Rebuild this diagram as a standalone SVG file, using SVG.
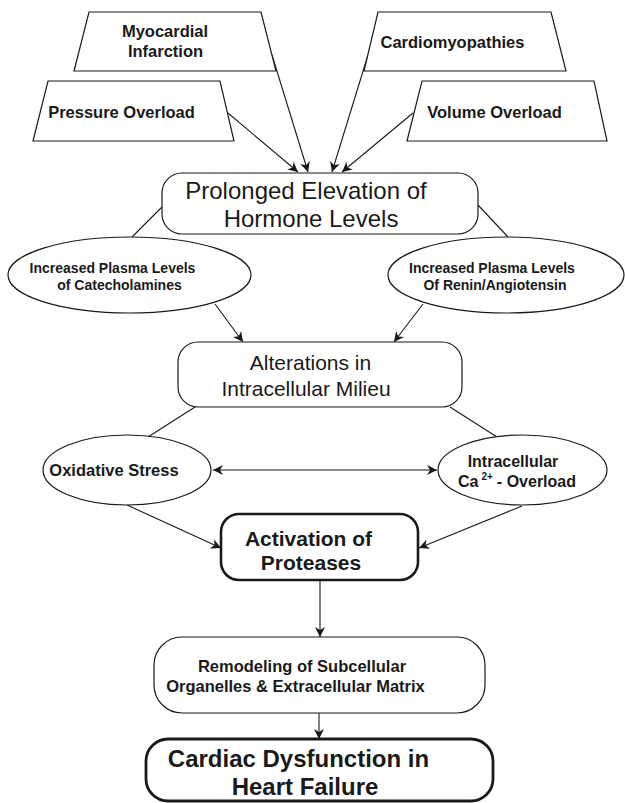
<svg xmlns="http://www.w3.org/2000/svg" width="625" height="803" viewBox="0 0 625 803">
<defs>
<style>
.shape{fill:#fff;stroke:#1a1a1a;stroke-width:1.2}
.thick{fill:#fff;stroke:#1a1a1a;stroke-width:2.6}
.con{fill:none;stroke:#1a1a1a;stroke-width:1.1}
.arr{marker-end:url(#ah)}
text{font-family:"Liberation Sans",Arial,Helvetica,sans-serif;fill:#1a1a1a}
.b{font-weight:bold}
.m{text-anchor:middle}
</style>
<marker id="ah" viewBox="0 0 10 10" refX="10" refY="5" markerWidth="10" markerHeight="10" markerUnits="userSpaceOnUse" orient="auto-start-reverse">
<path d="M0,0 L10,5 L0,10 L3,5 z" fill="#1a1a1a"/>
</marker>
</defs>
<rect width="625" height="803" fill="#fff"/>

<g id="connectors">
<line class="con arr" x1="228" y1="113" x2="298" y2="172"/>
<line class="con arr" x1="272" y1="55" x2="308" y2="172"/>
<line class="con arr" x1="368" y1="55" x2="332" y2="172"/>
<line class="con arr" x1="413" y1="113" x2="342" y2="172"/>
<line class="con" x1="162" y1="207" x2="132" y2="237"/>
<line class="con" x1="478" y1="205" x2="508" y2="237"/>
<line class="con arr" x1="215" y1="304" x2="243" y2="342"/>
<line class="con arr" x1="423" y1="304" x2="394" y2="342"/>
<line class="con" x1="195" y1="407" x2="148" y2="437"/>
<line class="con" x1="450" y1="407" x2="497" y2="437"/>
<line class="con" x1="213" y1="470" x2="437" y2="470" marker-start="url(#ah)" marker-end="url(#ah)"/>
<line class="con arr" x1="127" y1="505" x2="221" y2="548"/>
<line class="con arr" x1="522" y1="506" x2="419" y2="548"/>
<line class="con arr" x1="320" y1="580" x2="320" y2="637"/>
<line class="con arr" x1="319" y1="709" x2="319" y2="739"/>
</g>

<g id="myocardial">
<polygon class="shape" points="89,12 261,12 276,71 74,71"/>
<text class="b m" x="165" y="37" font-size="16.5">Myocardial</text>
<text class="b m" x="165.5" y="57" font-size="16.5">Infarction</text>
</g>
<g id="pressure">
<polygon class="shape" points="48,81 220,81 234,141 33,141"/>
<text class="b m" x="121.5" y="118" font-size="16.5">Pressure Overload</text>
</g>
<g id="cardiomyopathies">
<polygon class="shape" points="378,12 551,12 566,71 364,71"/>
<text class="b m" x="452.5" y="48" font-size="16.5">Cardiomyopathies</text>
</g>
<g id="volume">
<polygon class="shape" points="422,81 594,81 607,141 407,141"/>
<text class="b m" x="494.5" y="118" font-size="16.5">Volume Overload</text>
</g>

<g id="prolonged">
<rect class="shape" x="162" y="173" width="316" height="61" rx="20"/>
<text class="m" x="306" y="199" font-size="24">Prolonged Elevation of</text>
<text class="m" x="311" y="227" font-size="24">Hormone Levels</text>
</g>

<g id="catecholamines">
<ellipse class="shape" cx="129.5" cy="275" rx="121.5" ry="38"/>
<text class="b m" x="112.5" y="273" font-size="14">Increased Plasma Levels</text>
<text class="b m" x="119.5" y="290" font-size="14">of Catecholamines</text>
</g>
<g id="renin">
<ellipse class="shape" cx="506" cy="275" rx="118" ry="38"/>
<text class="b m" x="492" y="273" font-size="14">Increased Plasma Levels</text>
<text class="b m" x="495" y="290" font-size="14">Of Renin/Angiotensin</text>
</g>

<g id="alterations">
<rect class="shape" x="178" y="342" width="284" height="65" rx="20"/>
<text class="m" x="310.5" y="370" font-size="21">Alterations in</text>
<text class="m" x="306" y="396" font-size="21">Intracellular Milieu</text>
</g>

<g id="oxidative">
<ellipse class="shape" cx="127" cy="470" rx="84" ry="35"/>
<text class="b m" x="114" y="476" font-size="16.5">Oxidative Stress</text>
</g>
<g id="calcium">
<ellipse class="shape" cx="522.5" cy="470" rx="84.5" ry="35"/>
<text class="b m" x="513" y="467" font-size="16">Intracellular</text>
<text class="b" x="458" y="487" font-size="16">Ca<tspan font-size="10" dx="3" dy="-7">2+</tspan><tspan dx="4" dy="7">- Overload</tspan></text>
</g>

<g id="activation">
<rect class="thick" x="221" y="514" width="197" height="66" rx="18"/>
<text class="b m" x="308.5" y="546" font-size="21">Activation of</text>
<text class="b m" x="311" y="570" font-size="21">Proteases</text>
</g>

<g id="remodeling">
<rect class="shape" x="154" y="637" width="331" height="76" rx="28"/>
<text class="b m" x="302" y="672" font-size="16.5">Remodeling of Subcellular</text>
<text class="b m" x="295.5" y="692" font-size="16.5">Organelles &amp; Extracellular Matrix</text>
</g>

<g id="cardiac">
<rect class="thick" x="146" y="739" width="347" height="62" rx="22" style="stroke-width:2.8"/>
<text class="b m" x="298.5" y="767" font-size="24">Cardiac Dysfunction in</text>
<text class="b m" x="305" y="795" font-size="24">Heart Failure</text>
</g>
</svg>
